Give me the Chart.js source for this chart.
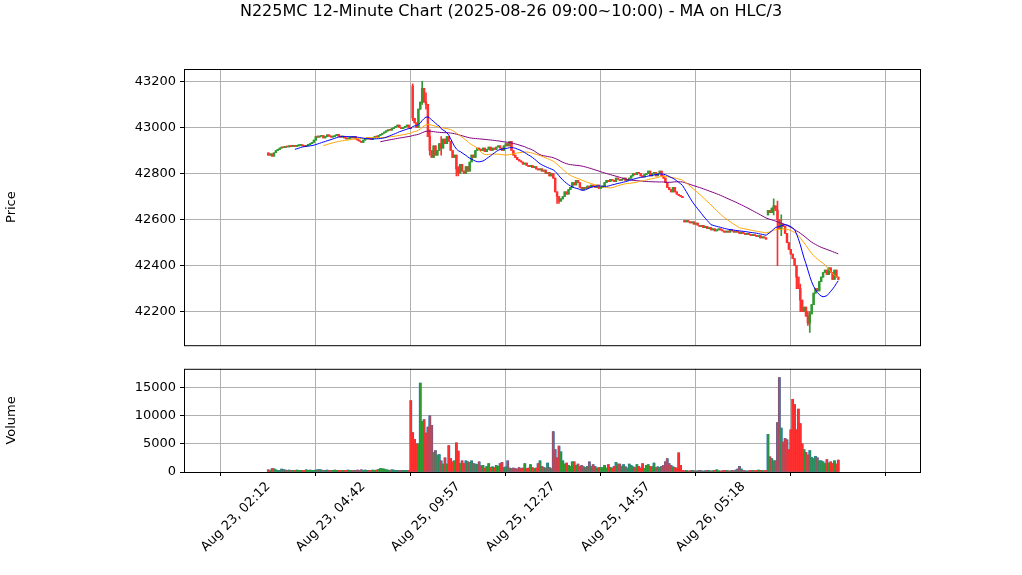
<!DOCTYPE html>
<html>
<head>
<meta charset="utf-8">
<script src="https://cdn.jsdelivr.net/npm/chart.js@4.4.1/dist/chart.umd.min.js"></script>
<style>
  body { margin: 0; background: #fff; }
  #wrap { position: relative; width: 1022px; height: 575px; }
  #titulo { position: absolute; top: 0; left: 0; width: 1022px; text-align: center; font: 16px "DejaVu Sans"; line-height: 22px; z-index: 2; }
  canvas { position: absolute; left: 0; }
</style>
</head>
<body>
<div id="wrap">
  <div id="titulo">N225MC 12-Minute Chart (2025-08-26 09:00~10:00) - MA on HLC/3</div>
  <canvas id="precio" width="1022" height="357" style="top:0;width:1022px;height:357px"></canvas>
  <canvas id="volumen" width="1022" height="218" style="top:357px;width:1022px;height:218px"></canvas>
</div>
<script>
// Datos (velas de 3 minutos)
const cierres = [
  42880,42885,42875,42890,42900,
  42905,42910,42915,42912,42918,42915,42920,42918,42922,
  42918,42920,42922,42925,42920,42918,42922,42925,42930,42935,42945,42960,42958,
  42962,42965,42955,42960,42968,42962,42958,42960,42965,42970,42962,42958,42960,42955,42950,42952,42958,42955,42960,
  42950,42945,42940,42935,42945,42950,42955,42950,42948,42955,42960,42958,42965,42970,42975,
  42980,42985,42990,42988,42995,43000,43005,43010,43000,42995,43000,43005,43010,43000,42995,
  43040,43020,43000,43080,43110,43170,43110,43100,42960,42900,
  42870,42920,42880,42900,42930,42910,42950,42930,42960,42940,
  42900,42870,42880,42820,42800,42840,42810,42800,
  42830,42810,42850,42880,42870,42900,42910,42905,
  42900,42910,42895,42905,42915,42900,42910,42905,42915,42920,42910,42900,42920,42930,42920,
  42940,42900,42880,42870,42860,42855,42850,42840,42845,42835,42830,
  42835,42825,42830,42820,42815,42820,42810,42815,42800,42805,42790,42800,42780,
  42720,42700,42680,42690,42700,42720,42710,42730,42740,42760,
  42750,42770,42760,42740,42730,42740,42735,42745,42740,42750,42745,42740,42750,42735,42740,
  42745,42760,42770,42765,42775,42770,42765,42780,42775,42770,42775,42780,42770,42775,42780,
  42790,42800,42795,42805,42800,42790,42785,42795,42800,42810,42790,42800,42805,42790,42800,
  42810,42790,42780,42760,42740,42730,42720,42740,42720,42710,42705,42700,42695,
  42590,42595,42590,42585,42590,42580,42585,42575,42570,42575,42565,42570,42560,42565,42555,42560,42550,42555,42560,42555,42550,42545,
  42550,42545,42555,42550,42545,42550,42545,42540,42545,42540,42535,42540,42535,42530,42535,42530,42525,42530,42520,42525,42520,42515,
  42640,42630,42650,42660,42640,42600,
  42560,42580,42570,42540,42500,42470,42450,
  42430,42400,42350,42300,42250,42200,42220,42180,42150,42190,
  42230,42280,42300,42290,42330,42350,42370,
  42380,42360,42390,42370,42340,42380,42350,42340
];
// aperturas distintas al cierre anterior (huecos)
const huecos = { 0: 42890, 76: 43180, 219: 42595, 263: 42620 };
// mechas destacadas: [indice, maximo, minimo]
const mechas = [
  [76, 43190, 43030], [81, 43200, 43100], [83, 43150, 43080], [85, 42990, 42880],
  [91, 42960, 42880], [99, 42860, 42790], [100, 42830, 42790],
  [152, 42720, 42670], [153, 42700, 42670],
  [266, 42690, 42620], [268, 42680, 42400], [270, 42620, 42530],
  [278, 42380, 42300], [280, 42320, 42200], [285, 42200, 42110], [284, 42200, 42140]
];
const volumenes = [
  400,300,600,550,400,250,300,500,450,350,
  300,350,300,250,300,350,300,300,250,300,
  400,300,350,300,300,350,400,450,350,300,
  300,350,300,250,300,350,300,250,300,300,
  250,300,350,300,300,250,300,350,300,400,
  300,350,300,250,300,350,300,350,450,600,
  550,500,400,350,300,400,350,300,300,250,
  300,250,300,250,300,12700,
  7000,5800,5000,5000,15800,9000,9300,6900,8000,10000,8300,3500,3800,3000,3100,2000,1400,2500,1400,4700,2400,1800,2000,5200,
  3700,1500,2000,1500,2000,1800,1700,2000,1500,1400,1300,1800,1100,1200,700,1000,1500,800,900,800,1200,1000,1500,1700,800,900,2000,700,
  600,700,600,500,800,600,700,1500,600,700,1300,800,600,700,1500,2000,1000,800,700,1600,800,600,7200,
  4000,2500,4600,3600,2000,1400,1600,1200,1000,1800,1800,1200,1400,1000,1200,900,800,1000,1800,1000,1300,1000,700,800,800,800,1200,700,1300,800,700,1000,1700,1400,1400,1000,1300,900,700,1400,1200,900,800,1300,1000,700,1500,600,1200,1300,
  1000,900,1600,800,900,800,1000,1200,1800,2400,1500,1200,900,800,700,3400,1200,300,
  200,300,150,200,300,200,150,200,300,200,150,200,300,250,150,200,300,400,200,150,200,300,250,200,150,300,200,350,500,1000,500,300,200,150,200,300,250,200,300,350,300,250,200,300,
  6700,2700,2400,2000,2000,8800,16800,7800,5300,6000,5700,4000,7500,12900,12000,7500,11200,8600,5000,4000,3500,3000,3800,2600,2400,2800,2500,2000,2000,1800,1500,2200,1600,1800,1500,2000,1400,2100
];
const posTicks = [0, 50, 100, 150, 200, 250, 300];
const etiquetasTicks = ['Aug 23, 02:12', 'Aug 23, 04:42', 'Aug 25, 09:57', 'Aug 25, 12:27', 'Aug 25, 14:57', 'Aug 26, 05:18', ''];
const ticksPrecio = [42200, 42400, 42600, 42800, 43000, 43200];
const ticksVolumen = [0, 5000, 10000, 15000];
const ventanasMA = [15, 30, 60];
const coloresMA = ['blue', 'orange', 'purple'];

const VERDE = '#2f9a2f';
const ROJO = '#ff3030';

// armar OHLC
const velas = cierres.map((c, i) => {
  const o = huecos[i] !== undefined ? huecos[i] : (i > 0 ? cierres[i - 1] : c);
  return { o: o, c: c, h: Math.max(o, c), l: Math.min(o, c) };
});
mechas.forEach(([i, h, l]) => {
  if (velas[i]) {
    velas[i].h = Math.max(velas[i].h, h);
    velas[i].l = Math.min(velas[i].l, l);
  }
});
const colorVela = velas.map(v => v.c >= v.o ? VERDE : ROJO);

// media movil sobre HLC/3
function mediaMovil(n) {
  const tp = velas.map(v => (v.h + v.l + v.c) / 3);
  return tp.map((_, i) => {
    if (i < n - 1) return { x: i, y: null };
    let s = 0;
    for (let k = i - n + 1; k <= i; k++) s += tp[k];
    return { x: i, y: s / n };
  });
}

const fuente = { family: 'DejaVu Sans', size: 13 };
const gridCfg = {
  color: '#b0b0b0', borderDash: [6, 3, 1, 3], lineWidth: 1,
  tickLength: 4, tickColor: '#000', tickBorderDash: []
};

// marco negro completo
const marco = {
  id: 'marco',
  afterDraw(chart) {
    const a = chart.chartArea, ctx = chart.ctx;
    ctx.save();
    ctx.strokeStyle = '#000';
    ctx.lineWidth = 1;
    ctx.strokeRect(a.left + 0.5, a.top + 0.5, a.right - a.left, a.bottom - a.top);
    ctx.restore();
  }
};

// x: indice 0 en 221px, 300 en 886px; area 184..920
const pxPorBarra = (886 - 221) / 300;
const xMin = -(221 - 184) / pxPorBarra;
const xMax = 300 + (920 - 886) / pxPorBarra;

function ejeX(mostrarEtiquetas, alto) {
  return {
    type: 'linear', min: xMin, max: xMax,
    afterBuildTicks: s => { s.ticks = posTicks.map(v => ({ value: v })); },
    afterFit: s => { s.height = alto; },
    grid: Object.assign({}, gridCfg, { drawTicks: mostrarEtiquetas }),
    border: { display: false },
    ticks: {
      display: mostrarEtiquetas, color: '#000', font: fuente,
      maxRotation: 45, minRotation: 45, autoSkip: false,
      callback: (v) => { const k = posTicks.indexOf(v); return k >= 0 ? etiquetasTicks[k] : ''; }
    }
  };
}

function ejeY(min, max, ticks, titulo) {
  return {
    min: min, max: max,
    afterFit: s => { s.width = 184; },
    afterBuildTicks: s => { s.ticks = ticks.map(v => ({ value: v })); },
    grid: gridCfg, border: { display: false },
    ticks: { color: '#000', font: fuente, padding: 4, autoSkip: false, callback: v => String(v) },
    title: { display: true, text: titulo, color: '#000', font: fuente, padding: { bottom: 8 } }
  };
}

Chart.defaults.font.family = 'DejaVu Sans';
Chart.defaults.animation = false;

// ---- precio ----
new Chart(document.getElementById('precio'), {
  type: 'bar',
  data: {
    datasets: [
      {
        label: 'mecha',
        data: velas.map((v, i) => ({ x: i, y: [v.l, v.h] })),
        backgroundColor: colorVela, barThickness: 1, grouped: false, minBarLength: 1, order: 2
      },
      {
        label: 'cuerpo',
        data: velas.map((v, i) => ({ x: i, y: [v.o, v.c] })),
        backgroundColor: colorVela, barThickness: 1.8, grouped: false, minBarLength: 1, order: 1
      },
      ...ventanasMA.map((n, k) => ({
        type: 'line', label: 'MA' + n, data: mediaMovil(n),
        borderColor: coloresMA[k], borderWidth: 1, pointRadius: 0, order: 0
      }))
    ]
  },
  options: {
    responsive: false, maintainAspectRatio: false, devicePixelRatio: 1,
    layout: { padding: { left: 0, right: 102, top: 69, bottom: 0 } },
    plugins: { legend: { display: false }, tooltip: { enabled: false } },
    scales: {
      x: ejeX(false, 0),
      y: ejeY(42054, 43254, ticksPrecio, 'Price')
    }
  },
  plugins: [marco]
});

// ---- volumen ----
new Chart(document.getElementById('volumen'), {
  type: 'bar',
  data: {
    datasets: [
      {
        label: 'color',
        data: volumenes.map((v, i) => ({ x: i, y: v })),
        backgroundColor: volumenes.map((_, i) => colorVela[i] || VERDE),
        barThickness: 1, grouped: false, order: 0
      },
      {
        label: 'volumen',
        data: volumenes.map((v, i) => ({ x: i, y: v })),
        backgroundColor: '#1f77b4', barThickness: 2.2, grouped: false, order: 1
      }
    ]
  },
  options: {
    responsive: false, maintainAspectRatio: false, devicePixelRatio: 1,
    layout: { padding: { left: 0, right: 102, top: 0, bottom: 0 } },
    plugins: { legend: { display: false }, tooltip: { enabled: false } },
    scales: {
      x: ejeX(true, 103),
      y: ejeY(0, 18350, ticksVolumen, 'Volume')
    }
  },
  plugins: [marco]
});
</script>
</body>
</html>
